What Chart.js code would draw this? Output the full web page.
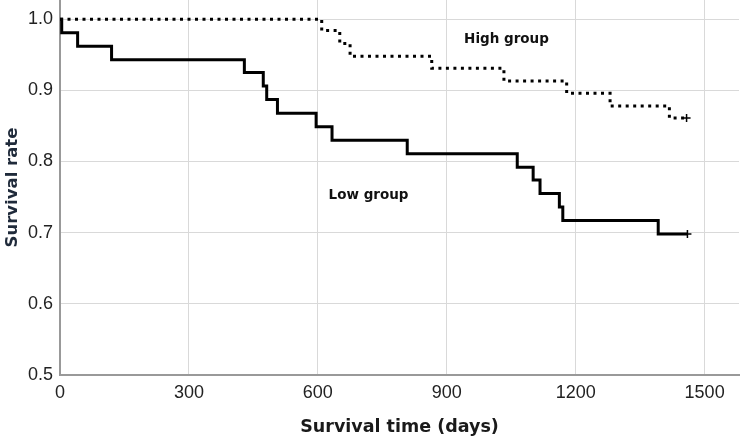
<!DOCTYPE html>
<html>
<head>
<meta charset="utf-8">
<script src="https://cdn.jsdelivr.net/npm/chart.js@4"></script>
<style>
  html, body { margin: 0; padding: 0; background: #fff; }
  #wrap { width: 740px; height: 439px; }
</style>
</head>
<body>
<div id="wrap"><canvas id="km" width="740" height="439"></canvas></div>
<script>
// Kaplan-Meier steps (days, survival)
const lowTimes = [0, 4, 41, 120, 429, 473, 481, 506, 596, 633, 808, 1064, 1101, 1117, 1162, 1170, 1392, 1460];
const lowSurv = [1.0, 0.981, 0.962, 0.943, 0.925, 0.906, 0.887, 0.868, 0.849, 0.830, 0.811, 0.792, 0.774, 0.755, 0.736, 0.717, 0.698, 0.698];
const highTimes = [0, 609, 651, 675, 865, 1033, 1179, 1280, 1418, 1458];
const highSurv = [1.0, 0.984, 0.966, 0.948, 0.931, 0.913, 0.896, 0.878, 0.861, 0.861];

const xTicks = [0, 300, 600, 900, 1200, 1500];
const yTicks = [0.5, 0.6, 0.7, 0.8, 0.9, 1.0];

const groupLabels = ['High group', 'Low group'];
const labelAt = [{ x: 1039, y: 0.972 }, { x: 718, y: 0.752 }];

function points(times, surv) {
  return times.map((t, i) => ({ x: t, y: surv[i] }));
}

function censorOnly(n) {
  return (ctx) => (ctx.dataIndex === n - 1 ? 4 : 0);
}

// chart.js pads for the outer tick labels; the plot here runs to the edges
function noEdgePad(s) {
  s.paddingTop = 0;
  s.paddingBottom = 0;
  s.paddingLeft = 0;
  s.paddingRight = 0;
}

const groupText = {
  id: 'groupText',
  afterDatasetsDraw(chart) {
    const { ctx, scales } = chart;
    ctx.save();
    ctx.font = 'bold 13.5px "DejaVu Sans"';
    ctx.fillStyle = '#111';
    ctx.textAlign = 'center';
    ctx.textBaseline = 'middle';
    groupLabels.forEach((txt, i) => {
      ctx.fillText(txt, scales.x.getPixelForValue(labelAt[i].x), scales.y.getPixelForValue(labelAt[i].y));
    });
    ctx.restore();
  },
};

new Chart(document.getElementById('km'), {
  type: 'line',
  data: {
    datasets: [
      {
        label: 'High group',
        data: points(highTimes, highSurv),
        stepped: 'before',
        borderColor: '#000',
        borderWidth: 3,
        borderDash: [3, 4.5],
        borderCapStyle: 'butt',
        pointStyle: 'cross',
        pointRadius: censorOnly(highTimes.length),
        pointBorderWidth: 1.5,
        pointBorderColor: '#000',
        fill: false,
      },
      {
        label: 'Low group',
        data: points(lowTimes, lowSurv),
        stepped: 'before',
        borderColor: '#000',
        borderWidth: 3,
        pointStyle: 'cross',
        pointRadius: censorOnly(lowTimes.length),
        pointBorderWidth: 1.5,
        pointBorderColor: '#000',
        fill: false,
      },
    ],
  },
  options: {
    responsive: false,
    animation: false,
    layout: { autoPadding: false, padding: { top: 0, right: 1, bottom: 0, left: 0 } },
    plugins: { legend: { display: false }, tooltip: { enabled: false } },
    scales: {
      x: {
        type: 'linear',
        min: 0,
        max: 1580,
        afterBuildTicks: (s) => { s.ticks = xTicks.map((v) => ({ value: v })); },
        afterFit: (s) => { s.height = 64; noEdgePad(s); },
        ticks: { padding: 7, color: '#222', font: { family: '"Liberation Sans"', size: 18 }, callback: (v) => String(v) },
        grid: { color: '#d9d9d9', lineWidth: 1, drawTicks: false },
        border: { color: '#999', width: 2 },
        title: {
          display: true,
          text: 'Survival time (days)',
          color: '#1a1a1a',
          font: { family: '"DejaVu Sans"', size: 17.5, weight: 'bold' },
          padding: { top: 0, bottom: 1 },
        },
      },
      y: {
        type: 'linear',
        min: 0.5,
        max: 1.027,
        afterBuildTicks: (s) => { s.ticks = yTicks.map((v) => ({ value: v })); },
        afterFit: (s) => { s.width = 60; noEdgePad(s); },
        ticks: { padding: 7, color: '#222', font: { family: '"Liberation Sans"', size: 18 }, callback: (v) => v.toFixed(1) },
        grid: { color: '#d9d9d9', lineWidth: 1, drawTicks: false },
        border: { color: '#999', width: 2 },
        title: {
          display: true,
          text: 'Survival rate',
          color: '#1f2a3a',
          font: { family: '"DejaVu Sans"', size: 16.5, weight: 'bold' },
          padding: { top: 3, bottom: 0 },
        },
      },
    },
  },
  plugins: [groupText],
});
</script>
</body>
</html>
